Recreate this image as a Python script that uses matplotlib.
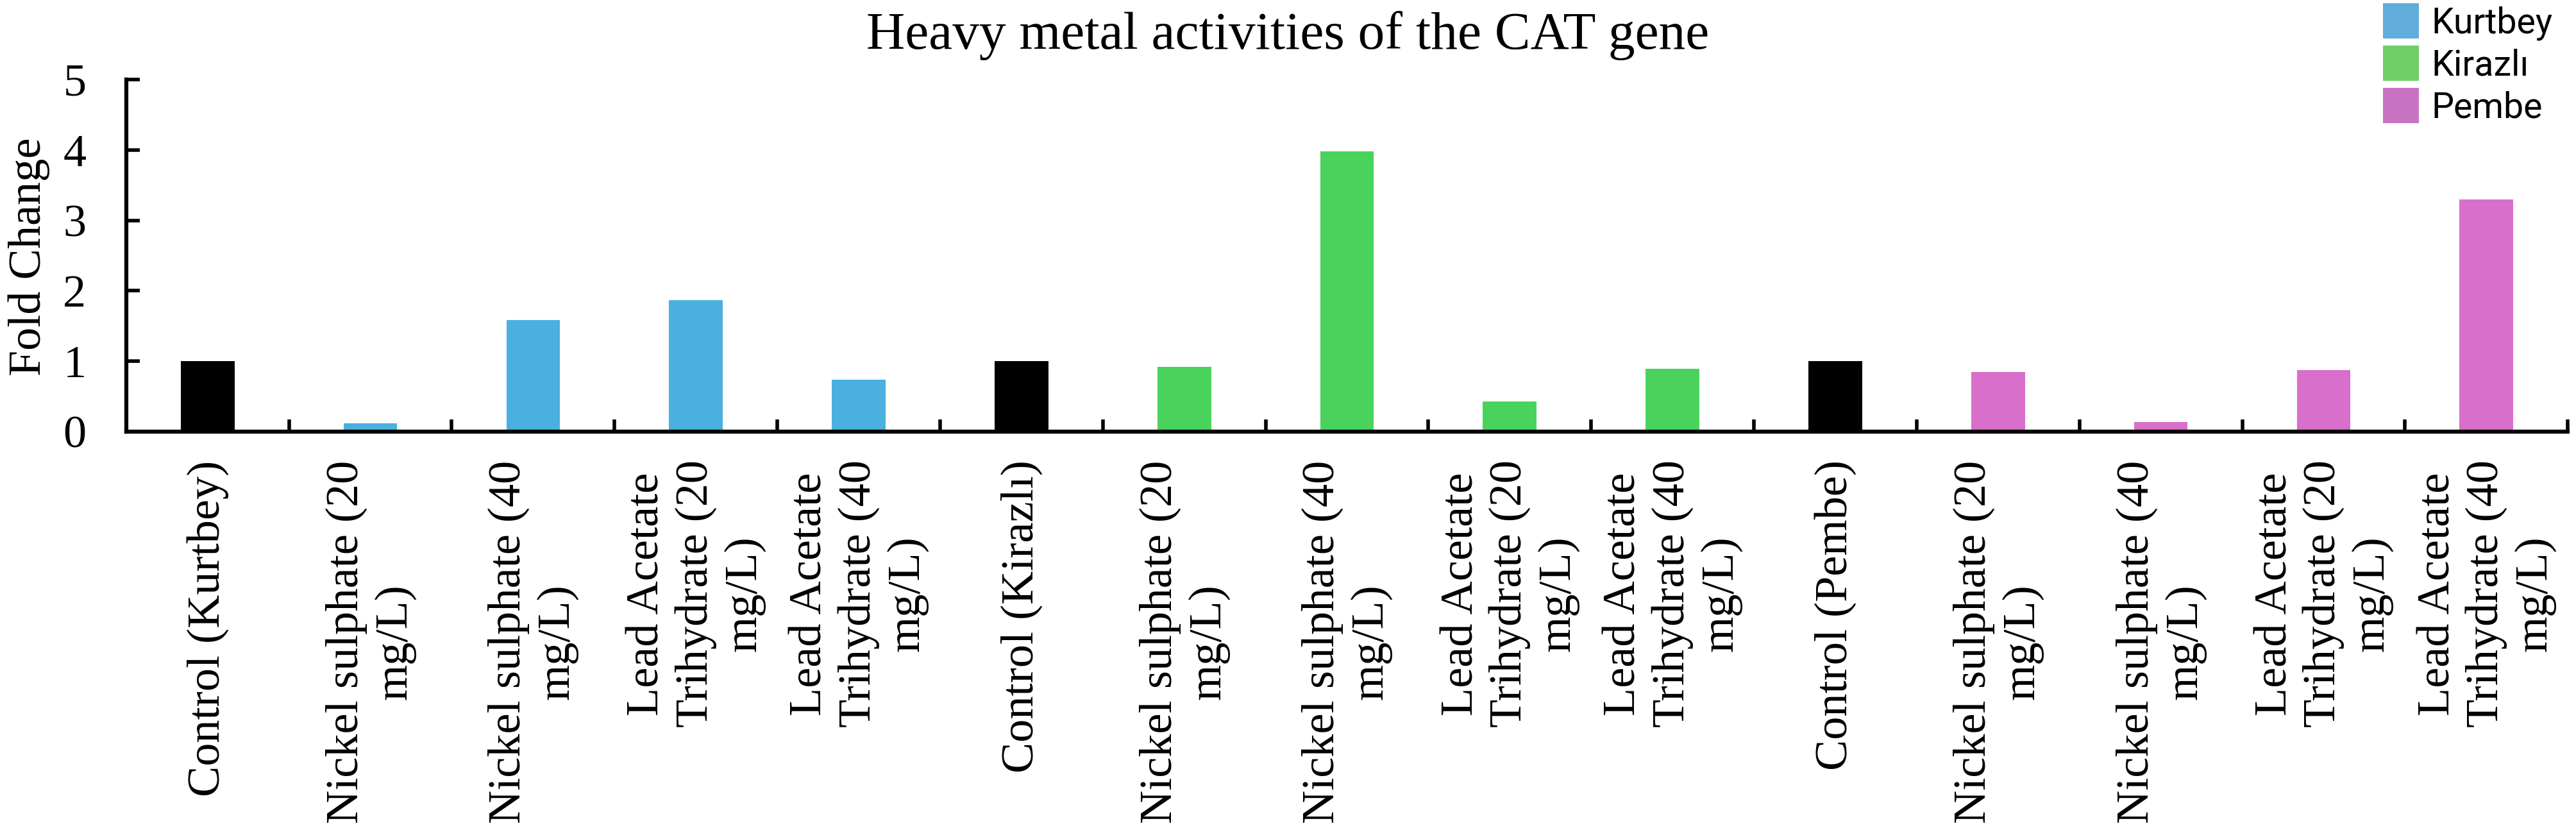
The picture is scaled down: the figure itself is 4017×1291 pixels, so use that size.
import numpy as np
import matplotlib
matplotlib.use("Agg")
import matplotlib.pyplot as plt
from matplotlib.patches import Patch

# data
cultivars = ["Kurtbey", "Kirazlı", "Pembe"]
treatments = [
    "Nickel sulphate (20\nmg/L)",
    "Nickel sulphate (40\nmg/L)",
    "Lead Acetate\nTrihydrate (20\nmg/L)",
    "Lead Acetate\nTrihydrate (40\nmg/L)",
]
kurtbey = [1.0, 0.12, 1.58, 1.87, 0.74]
kirazli = [1.0, 0.92, 3.98, 0.43, 0.89]
pembe = [1.0, 0.85, 0.14, 0.87, 3.30]

bar_colors = ["#4AB0DF", "#4AD35C", "#D86FCA"]
legend_colors = ["#61ADDC", "#6ECF68", "#C872C3"]

serif = ["Liberation Serif", "DejaVu Serif"]
plt.rcParams["font.family"] = serif


def main():
    labels, values, colors = [], [], []
    for name, vals, col in zip(cultivars, [kurtbey, kirazli, pembe], bar_colors):
        labels.append("Control ({})".format(name))
        labels.extend(treatments)
        values.extend(vals)
        colors.extend(["black"] + [col] * len(treatments))

    x = np.arange(len(values))

    fig = plt.figure(figsize=(40.17, 12.91), dpi=100)
    ax = fig.add_axes([0.049, 0.4787, 0.9478, 0.4253])

    ax.bar(x, values, width=0.33, color=colors)

    ax.set_xlim(-0.5, len(values) - 0.5)
    ax.set_ylim(0, 5)
    ax.set_yticks(range(6))

    ax.set_xticks(x)
    ax.set_xticklabels(labels, rotation=90, ha="center", va="top",
                       multialignment="center", fontsize=52)
    ax.set_xticks(np.arange(len(values) + 1) - 0.5, minor=True)
    ax.tick_params(axis="x", which="major", length=0, pad=32)
    ax.tick_params(axis="x", which="minor", direction="in", length=14, width=4)
    ax.tick_params(axis="y", direction="in", length=15, width=4, pad=45,
                   labelsize=52)

    for side in ["top", "right"]:
        ax.spines[side].set_visible(False)
    for side in ["left", "bottom"]:
        ax.spines[side].set_linewidth(4.5)

    fig.text(45 / 4017, 0.69, "Fold Change", rotation=90, ha="center",
             va="center", fontsize=52)
    fig.text(0.5, 0.957, "Heavy metal activities of the CAT gene",
             ha="center", va="center", fontsize=60)

    handles = [Patch(facecolor=c, edgecolor="none") for c in legend_colors]
    fig.legend(handles, cultivars, loc="upper left",
               bbox_to_anchor=(3716 / 4017, 1 - 5 / 1291),
               frameon=False, borderpad=0, borderaxespad=0,
               handlelength=1.0, handleheight=1.15, handletextpad=0.36,
               labelspacing=0.15, prop={"family": "Roboto", "size": 40})

    fig.savefig("out.png", dpi=100)


if __name__ == "__main__":
    main()
